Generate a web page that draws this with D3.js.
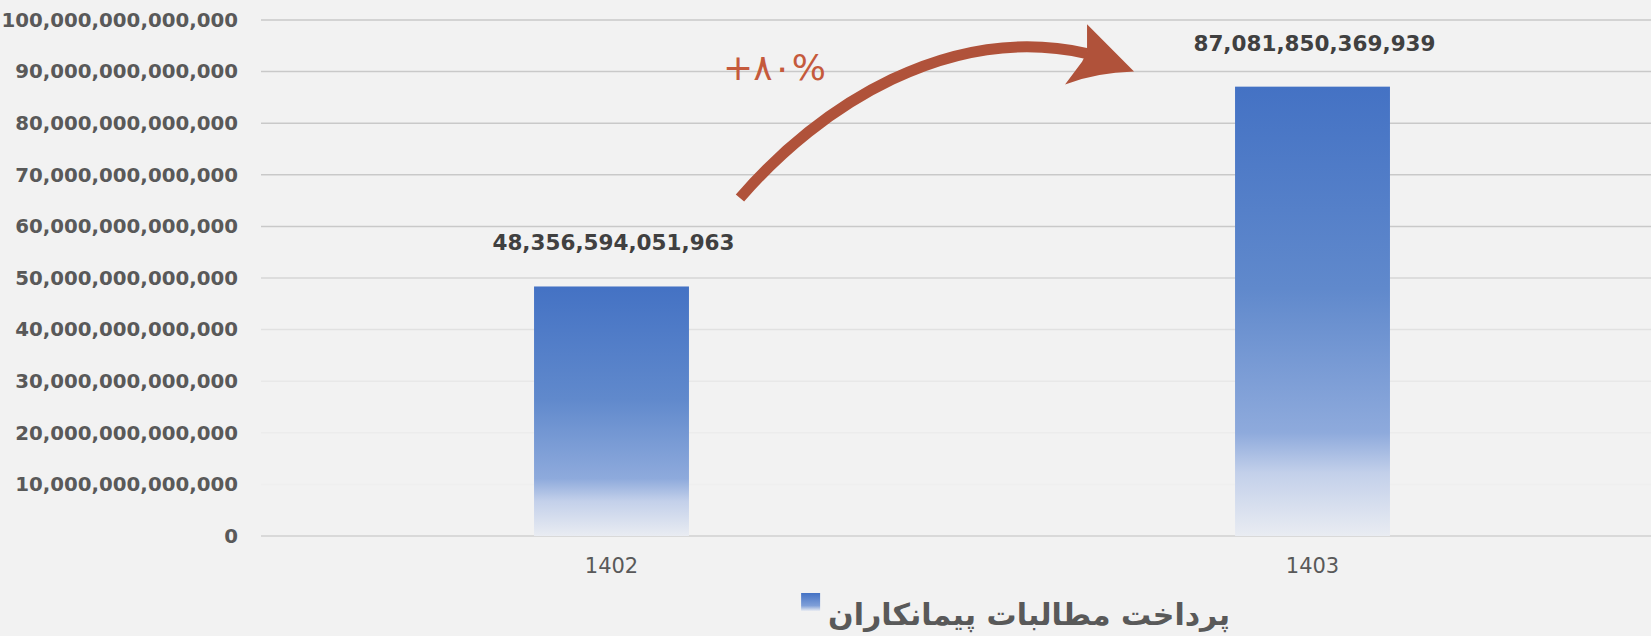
<!DOCTYPE html>
<html>
<head>
<meta charset="utf-8">
<script src="https://cdn.jsdelivr.net/npm/d3@7"></script>
<style>
  html, body { margin: 0; padding: 0; background: #f2f2f2; }
  svg { display: block; }
</style>
</head>
<body>
<svg id="chart"></svg>
<script>
// chart data
var years = ['1402', '1403']
var payments = [48356594051963, 87081850369939]
var yTicks = [0, 1e13, 2e13, 3e13, 4e13, 5e13, 6e13, 7e13, 8e13, 9e13, 1e14]
var seriesName = 'پرداخت مطالبات پیمانکاران'
var growthLabel = '+۸۰%'

var width = 1651, height = 636
var colors = { bg: '#f2f2f2', axisText: '#595959', valueText: '#404040', arrow: '#b0523a', growth: '#c55a3c' }
var fmt = d3.format(',.0f')

var svg = d3.select('#chart')
  .attr('width', width)
  .attr('height', height)
svg.append('rect').attr('width', width).attr('height', height).attr('fill', colors.bg)

var x = d3.scaleBand()
  .domain(years)
  .range([261, 1663])
  .paddingInner(0.779)
  .paddingOuter(0.3895)

var y = d3.scaleLinear()
  .domain([0, 1e14])
  .range([536, 20])

// bar gradient (blue on top, fading to almost white at the bottom)
var defs = svg.append('defs')
var grad = defs.append('linearGradient')
  .attr('id', 'barGrad')
  .attr('x1', 0).attr('y1', 0).attr('x2', 0).attr('y2', 1)
grad.append('stop').attr('offset', '0%').attr('stop-color', '#4472c4')
grad.append('stop').attr('offset', '45%').attr('stop-color', '#6089cc')
grad.append('stop').attr('offset', '77%').attr('stop-color', '#8eaadc')
grad.append('stop').attr('offset', '86%').attr('stop-color', '#c3d0ea')
grad.append('stop').attr('offset', '100%').attr('stop-color', '#e9ecf2')

// gridlines get lighter toward the bottom
var gridColor = d3.scaleLinear()
  .domain([1e13, 2e13, 3e13, 4e13, 5e13, 6e13])
  .range(['#efefef', '#ececec', '#e8e8e8', '#e1e1e1', '#d6d6d6', '#c9c9c9'])
  .clamp(true)

svg.append('g')
  .selectAll('line')
  .data(yTicks.filter(function (d) { return d > 0 }))
  .join('line')
  .attr('x1', 261).attr('x2', width)
  .attr('y1', function (d) { return y(d) }).attr('y2', function (d) { return y(d) })
  .attr('stroke', function (d) { return gridColor(d) })
  .attr('stroke-width', 1.5)

// baseline
svg.append('line')
  .attr('x1', 261).attr('x2', width)
  .attr('y1', y(0)).attr('y2', y(0))
  .attr('stroke', '#d9d9d9')
  .attr('stroke-width', 2)

// y axis
var yAxis = svg.append('g')
  .attr('transform', 'translate(261,0)')
  .call(d3.axisLeft(y).tickValues(yTicks).tickSize(0).tickPadding(23).tickFormat(fmt))
yAxis.select('.domain').remove()
yAxis.selectAll('text')
  .attr('fill', colors.axisText)
  .style('font-family', '"DejaVu Sans", sans-serif')
  .style('font-weight', 'bold')
  .style('font-size', '19.8px')

// x axis
var xAxis = svg.append('g')
  .attr('transform', 'translate(0,' + y(0) + ')')
  .call(d3.axisBottom(x).tickSize(0).tickPadding(22))
xAxis.select('.domain').remove()
xAxis.selectAll('text')
  .attr('fill', colors.axisText)
  .style('font-family', '"DejaVu Sans", sans-serif')
  .style('font-weight', 500)
  .style('font-size', '21px')

// bars
var rows = years.map(function (yr, i) { return { year: yr, value: payments[i] } })

svg.append('g')
  .selectAll('rect')
  .data(rows)
  .join('rect')
  .attr('x', function (d) { return x(d.year) })
  .attr('y', function (d) { return y(d.value) })
  .attr('width', x.bandwidth())
  .attr('height', function (d) { return y(0) - y(d.value) })
  .attr('fill', 'url(#barGrad)')

// value labels
svg.append('g')
  .selectAll('text')
  .data(rows)
  .join('text')
  .attr('x', function (d) { return x(d.year) + x.bandwidth() / 2 + 2 })
  .attr('y', function (d) { return y(d.value) - 36 })
  .attr('text-anchor', 'middle')
  .attr('fill', colors.valueText)
  .style('font-family', '"DejaVu Sans", sans-serif')
  .style('font-weight', 'bold')
  .style('font-size', '21.5px')
  .text(function (d) { return fmt(d.value) })

// growth arrow between the two bars
var x0 = x(years[0]) + x.bandwidth() + 51
var x1 = x(years[1]) - 101
var p = d3.path()
p.moveTo(x0, y(65.5e12))
p.bezierCurveTo(x0 + 80, y(83.5e12), x0 + 210, y(99.5e12), x1 - 47, y(93.5e12))
svg.append('path')
  .attr('d', p.toString())
  .attr('fill', 'none')
  .attr('stroke', colors.arrow)
  .attr('stroke-width', 11)

var head = d3.path()
head.moveTo(x1 - 47, y(99.2e12))
head.lineTo(x1, y(90e12))
head.quadraticCurveTo(x1 - 38, y(89.8e12), x1 - 69, y(87.5e12))
head.lineTo(x1 - 52, y(91.9e12))
head.lineTo(x1 - 47, y(93.8e12))
head.closePath()
svg.append('path')
  .attr('d', head.toString())
  .attr('fill', colors.arrow)

svg.append('text')
  .attr('x', 723)
  .attr('y', y(88.4e12))
  .attr('fill', colors.growth)
  .style('font-family', '"DejaVu Sans", sans-serif')
  .style('font-size', '36px')
  .style('letter-spacing', '6px')
  .text(growthLabel)

// legend
var legendRight = 1230
var legendText = svg.append('text')
  .attr('x', legendRight)
  .attr('y', 625)
  .attr('text-anchor', 'end')
  .attr('fill', colors.axisText)
  .style('font-family', '"DejaVu Sans", sans-serif')
  .style('font-weight', 'bold')
  .style('font-size', '30px')
  .text(seriesName)

var legendW = legendText.node().getComputedTextLength()
var legGrad = defs.append('linearGradient')
  .attr('id', 'legGrad')
  .attr('x1', 0).attr('y1', 0).attr('x2', 0).attr('y2', 1)
legGrad.append('stop').attr('offset', '0%').attr('stop-color', '#4472c4')
legGrad.append('stop').attr('offset', '70%').attr('stop-color', '#7f9fd8')
legGrad.append('stop').attr('offset', '100%').attr('stop-color', '#e9ecf2')
svg.append('rect')
  .attr('x', legendRight - legendW - 27)
  .attr('y', 593)
  .attr('width', 19)
  .attr('height', 18)
  .attr('fill', 'url(#legGrad)')
</script>
</body>
</html>
